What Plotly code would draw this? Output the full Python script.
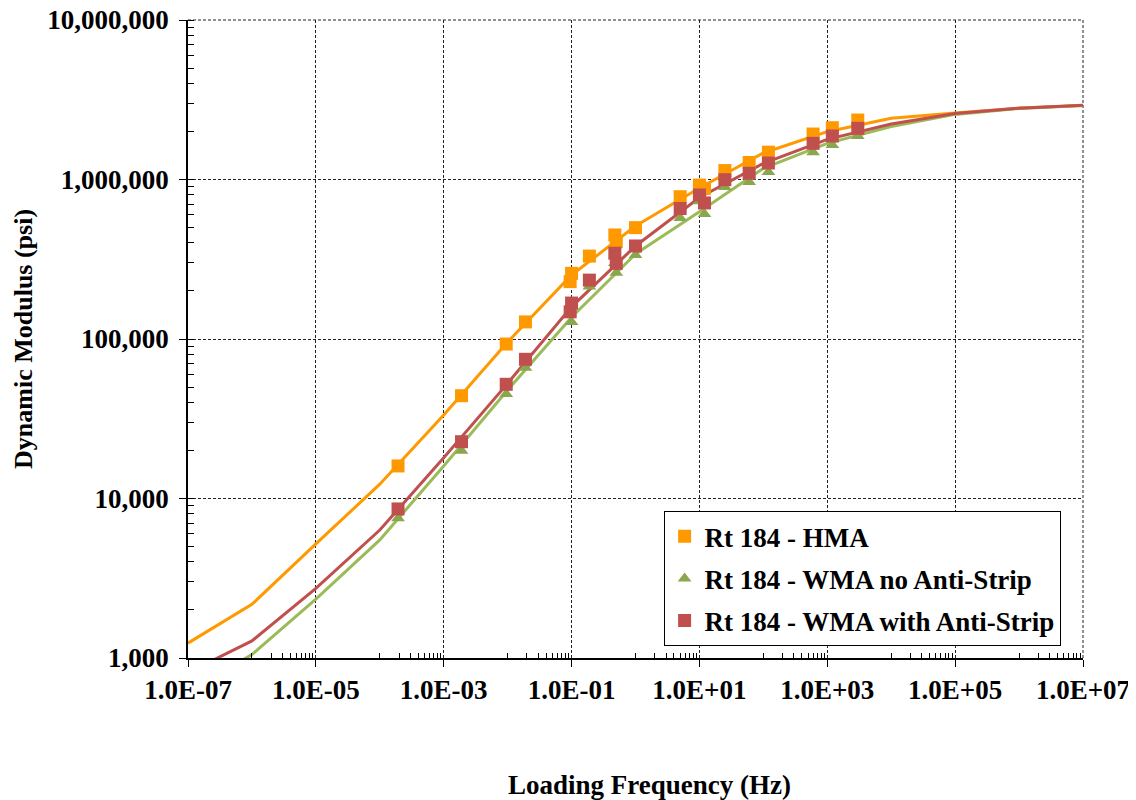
import plotly.graph_objects as go

# ---- data ----
freq_hz = [1.93e-4, 1.9e-3, 9.5e-3, 1.9e-2, 9.5e-2, 0.1, 0.19, 0.475, 0.5, 1, 5, 10, 12, 25, 60, 120, 600, 1200, 3000]
hma = [16000, 44100, 93000, 128000, 229000, 258000, 331000, 449000, 407000, 499000, 780000, 923000, 881000,
       1138000, 1278000, 1484000, 1928000, 2112000, 2360000]
wma_no = [7520, 19900, 45200, 66100, 145000, 128000, 213000, 300000, 260000, 336000, 574000, 730000, 607000,
          897000, 965000, 1114000, 1482000, 1645000, 1874000]
wma_with = [8600, 22700, 52000, 74600, 148000, 168000, 234000, 345000, 298000, 383000, 658000, 800000, 713000,
            997000, 1094000, 1269000, 1686000, 1874000, 2094000]

fit_freq = [1e-7, 1e-6, 1e-5, 1e-4, 1e-3, 1e-2, 1e-1, 1e0, 1e1, 1e2, 1e3, 1e4, 1e5, 1e6, 1e7]
hma_fit = [1240, 2170, 5190, 12300, 33400, 95700, 252000, 511000, 885000, 1466000, 1995000, 2420000,
           2610000, 2805000, 2910000]
wma_no_fit = [620, 1050, 2340, 5500, 16000, 47900, 137000, 341000, 628000, 1175000, 1686000, 2150000,
              2560000, 2790000, 2910000]
wma_with_fit = [810, 1280, 2730, 6340, 18000, 52700, 159000, 383000, 771000, 1262000, 1786000, 2230000,
                2595000, 2800000, 2920000]

x_tickvals = [1e-7, 1e-5, 1e-3, 1e-1, 1e1, 1e3, 1e5, 1e7]
x_ticktext = ["1.0E-07", "1.0E-05", "1.0E-03", "1.0E-01", "1.0E+01", "1.0E+03", "1.0E+05", "1.0E+07"]
y_tickvals = [1e3, 1e4, 1e5, 1e6, 1e7]
y_ticktext = ["1,000", "10,000", "100,000", "1,000,000", "10,000,000"]

names = ["Rt 184 - HMA", "Rt 184 - WMA no Anti-Strip", "Rt 184 - WMA with Anti-Strip"]
ORANGE = "#FF9900"
GREEN_L = "#9BBB59"
GREEN_M = "#8AA64E"
RED = "#C0504D"
FONT = "Liberation Serif"
GRID = "#222"
GRID_DASH = "3px,2px"

fig = go.Figure()
for yv, col in [(hma_fit, ORANGE), (wma_no_fit, GREEN_L), (wma_with_fit, RED)]:
    fig.add_trace(go.Scatter(x=fit_freq, y=yv, mode="lines", line=dict(color=col, width=3),
                             showlegend=False, hoverinfo="skip"))

fig.add_trace(go.Scatter(x=freq_hz, y=hma, mode="markers", name=names[0], legendgroup="a",
                         marker=dict(symbol="square", size=13, color=ORANGE)))
fig.add_trace(go.Scatter(x=freq_hz, y=wma_no, mode="markers", name=names[1], legendgroup="b",
                         marker=dict(symbol="triangle-up", size=12, color=GREEN_M)))
fig.add_trace(go.Scatter(x=freq_hz, y=wma_with, mode="markers", name=names[2], legendgroup="c",
                         marker=dict(symbol="square", size=13, color=RED)))

minor_x = [m * 10.0 ** k for k in (-6, -4, -2, 0, 2, 4, 6) for m in range(1, 10)]

fig.update_xaxes(type="log", range=[-7, 7], tickmode="array", tickvals=x_tickvals,
                 ticktext=x_ticktext, ticklabeloverflow="allow",
                 ticks="outside", ticklen=7, tickcolor="black", tickwidth=1, automargin=False,
                 showline=True, linecolor="black", linewidth=1.5,
                 showgrid=True, gridcolor=GRID, gridwidth=1, griddash=GRID_DASH,
                 zeroline=False, ticklabelstandoff=0,
                 tickfont=dict(family=FONT, size=27, color="black", weight="bold"),
                 minor=dict(tickmode="array", tickvals=minor_x, ticks="inside", ticklen=5,
                            tickcolor="black", tickwidth=1, showgrid=False))
fig.update_yaxes(type="log", range=[3, 7], tickmode="array", tickvals=y_tickvals,
                 ticktext=y_ticktext, ticklabeloverflow="allow",
                 ticks="outside", ticklen=7, tickcolor="black", tickwidth=1, automargin=False,
                 showline=True, linecolor="black", linewidth=1.5,
                 showgrid=True, gridcolor=GRID, gridwidth=1, griddash=GRID_DASH,
                 zeroline=False, ticklabelstandoff=5,
                 tickfont=dict(family=FONT, size=27, color="black", weight="bold"),
                 minor=dict(dtick="D1", ticks="inside", ticklen=6, tickcolor="black", tickwidth=1,
                            showgrid=False))

# the page body has an 8px margin; size the figure so the plot area lands where the reference has it
fig.update_layout(
    width=1128, height=792,
    margin=dict(l=180, r=53, t=12, b=142, autoexpand=False),
    paper_bgcolor="white", plot_bgcolor="white",
    font=dict(family=FONT, color="black"),
    showlegend=True,
    legend=dict(x=0.5314, y=0.230, xanchor="left", yanchor="top",
                bgcolor="white", bordercolor="black", borderwidth=1,
                font=dict(family=FONT, size=27, color="black", weight="bold"),
                itemwidth=30, tracegroupgap=4),
    shapes=[
        # gridlines on the top and right edges (plotly drops grid lines at the range ends)
        dict(type="line", xref="paper", yref="paper", x0=0, x1=1, y0=1, y1=1, layer="below",
             line=dict(color=GRID, width=1, dash=GRID_DASH)),
        dict(type="line", xref="paper", yref="paper", x0=1, x1=1, y0=0, y1=1, layer="below",
             line=dict(color=GRID, width=1, dash=GRID_DASH)),
    ],
    annotations=[
        dict(text="Loading Frequency (Hz)", xref="paper", yref="paper", x=0.516, y=-0.199,
             xanchor="center", yanchor="middle", showarrow=False,
             font=dict(family=FONT, size=27, color="black", weight="bold")),
        dict(text="Dynamic Modulus (psi)", xref="paper", yref="paper", x=-0.1844, y=0.5,
             xanchor="center", yanchor="middle", showarrow=False, textangle=-90,
             font=dict(family=FONT, size=26, color="black", weight="bold")),
    ],
)

fig.write_html("out.html")
